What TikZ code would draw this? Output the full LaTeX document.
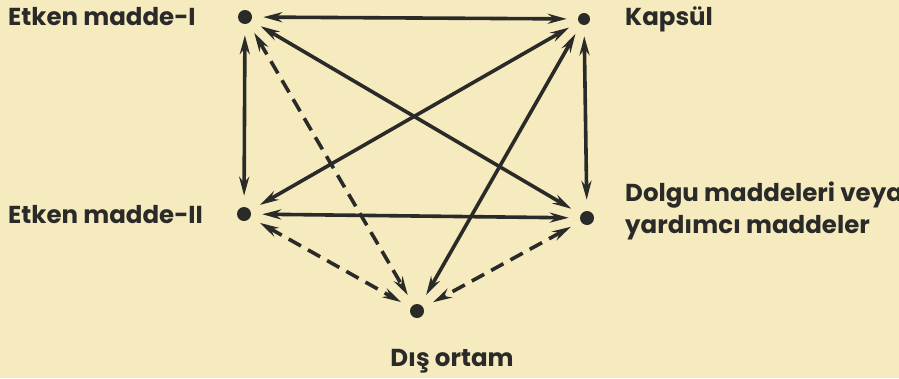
\documentclass[tikz,border=0pt]{standalone}
\usepackage{fontspec}
\setmainfont{Poppins}[BoldFont={* Bold}]
\usetikzlibrary{arrows.meta}
\definecolor{paper}{HTML}{F6EBBE}
\definecolor{ink}{HTML}{2A2A28}
\tikzset{
  x=1pt, y=-1pt,
  pt/.style={circle, fill=ink, inner sep=0pt, minimum size=14pt},
  lbl/.style={anchor=base west, inner sep=0pt, text=ink, font=\fontsize{24.5}{28}\selectfont\bfseries},
  biarrow/.style={{Stealth[length=19pt,width=10pt]}-{Stealth[length=19pt,width=10pt]}, draw=ink, line width=3.6pt, shorten <=11pt, shorten >=11pt},
  dasharrow/.style={biarrow, dash pattern=on 14pt off 8pt}
}
\begin{document}
\begin{tikzpicture}
\fill[paper] (0,0) rectangle (899,378);
\useasboundingbox (0,0) rectangle (899,378);
\node[pt] (A) at (245,17) {};
\node[pt, minimum size=12pt] (K) at (584,19) {};
\node[pt] (B) at (244,214) {};
\node[pt] (D) at (587,218) {};
\node[pt] (O) at (417,311) {};
\node[lbl] (tA) at (8,25) {Etken madde-I};
\node[lbl] (tK) at (625,25) {Kapsül};
\node[lbl] (tB) at (8,223) {Etken madde-II};
\node[lbl] (tD1) at (625,201) {Dolgu maddeleri veya};
\node[lbl] (tD2) at (625,233) {yardımcı maddeler};
\node[lbl, anchor=base] (tO) at (452,366) {Dış ortam};
\draw[biarrow] (A) -- (K);
\draw[biarrow] (A) -- (B);
\draw[biarrow] (K) -- (D);
\draw[biarrow] (A) -- (D);
\draw[biarrow] (K) -- (B);
\draw[biarrow] (K) -- (O);
\draw[biarrow] (B) -- (D);
\draw[dasharrow] (A) -- (O);
\draw[dasharrow] (B) -- (O);
\draw[dasharrow] (D) -- (O);
\end{tikzpicture}
\end{document}
